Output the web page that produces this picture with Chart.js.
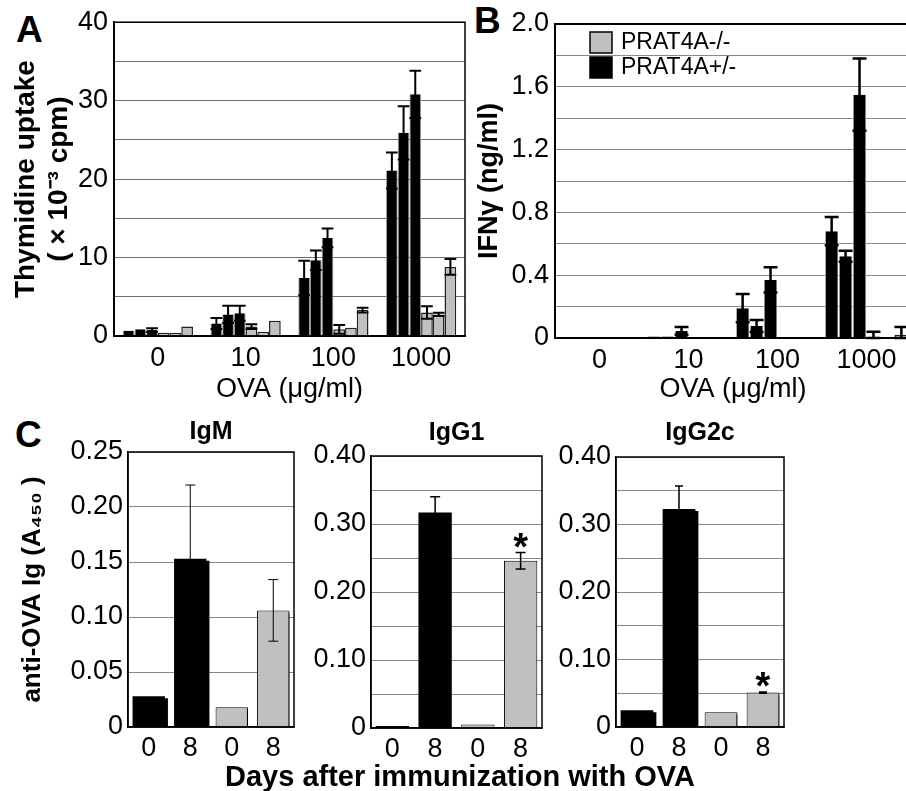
<!DOCTYPE html>
<html>
<head>
<meta charset="utf-8">
<script src="https://cdn.jsdelivr.net/npm/chart.js@4.4.1/dist/chart.umd.min.js"></script>
<style>
  html, body { margin: 0; padding: 0; background: #fff; overflow: hidden; }
  body { width: 906px; height: 791px; position: relative; font-family: 'Liberation Sans', Arial, sans-serif; color: #000; }
  .box { position: absolute; }
  .letter { position: absolute; font-weight: bold; font-size: 37px; line-height: 37px; }
  #daysTitle { position: absolute; left: 0; width: 920px; top: 761px; text-align: center; font-weight: bold; font-size: 29px; line-height: 30px; }
</style>
</head>
<body>
<div class="letter" style="left:16px; top:11px;">A</div>
<div class="letter" style="left:474px; top:2px;">B</div>
<div class="letter" style="left:15px; top:416px;">C</div>

<div class="box" style="left:0; top:0; width:470px; height:410px;"><canvas id="chartA"></canvas></div>
<div class="box" style="left:470px; top:0; width:450px; height:410px;"><canvas id="chartB"></canvas></div>
<div class="box" style="left:0; top:405px; width:300px; height:365px;"><canvas id="chartIgM"></canvas></div>
<div class="box" style="left:300px; top:405px; width:250px; height:365px;"><canvas id="chartIgG1"></canvas></div>
<div class="box" style="left:550px; top:405px; width:245px; height:365px;"><canvas id="chartIgG2c"></canvas></div>

<div id="daysTitle">Days after immunization with OVA</div>

<script>
// ---- data ----
var ovaDoses = ['0', '10', '100', '1000'];

// A: thymidine uptake (x10^-3 cpm), three mice per genotype
var thyHet = [
    [0.67, 1.6, 7.4, 21.1],
    [0.85, 2.75, 9.65, 25.9],
    [0.75, 2.9, 12.5, 30.8]
];
var thyHetErr = [
    [0, 0.7, 2.2, 2.3],
    [0, 1.1, 1.25, 3.4],
    [0.25, 0.95, 1.2, 3.0]
];
var thyKo = [
    [0.4, 1.2, 0.85, 3.0],
    [0.4, 0.55, 1.05, 2.75],
    [1.2, 1.95, 3.3, 8.8]
];
var thyKoErr = [
    [0, 0.3, 0.55, 0.8],
    [0, 0, 0, 0.2],
    [0, 0, 0.3, 1.0]
];

// B: IFN-gamma (ng/ml)
var ifnHet = [
    [0, 0.01, 0.19, 0.68],
    [0, 0.01, 0.077, 0.52],
    [0, 0.045, 0.37, 1.55]
];
var ifnHetErr = [
    [0, 0, 0.09, 0.09],
    [0, 0, 0.038, 0.035],
    [0, 0.025, 0.08, 0.23]
];
var ifnKo = [
    [0, 0, 0, 0.005],
    [0, 0, 0, 0],
    [0, 0, 0, 0.02]
];
var ifnKoErr = [
    [0, 0, 0, 0.035],
    [0, 0, 0, 0],
    [0, 0, 0, 0.05]
];

var legendLabels = ['PRAT4A-/-', 'PRAT4A+/-'];

// C: anti-OVA Ig (A450), days 0/8 for +/- then -/-
var igLabels = ['0', '8', '0', '8'];
var igmMean = [0.028, 0.153, 0.018, 0.106];
var igmErr = [0, 0.067, 0, 0.028];
var igg1Mean = [0.003, 0.317, 0.005, 0.246];
var igg1Err = [0, 0.023, 0, 0.012];
var igg2cMean = [0.025, 0.323, 0.022, 0.051];
var igg2cErr = [0, 0.034, 0, 0.001];
var igg1Star = [false, false, false, true];
var igg2cStar = [false, false, false, true];

// ---- styling ----
var BLACK = '#000000';
var GRAY = '#c0c0c0';
var FONT = "'Liberation Sans', Arial, sans-serif";
Chart.defaults.font.family = FONT;
Chart.defaults.color = '#000';

var igColors = [BLACK, BLACK, GRAY, GRAY];

// ---- plugins ----
var barShadow = {
    id: 'barShadow',
    beforeDatasetsDraw: function(chart, args, opts) {
        if (!opts.on) return;
        var ctx = chart.ctx;
        ctx.save();
        ctx.shadowColor = '#000';
        ctx.shadowOffsetX = 3;
        ctx.shadowOffsetY = 2;
        ctx.shadowBlur = 0;
    },
    afterDatasetsDraw: function(chart, args, opts) {
        if (opts.on) chart.ctx.restore();
    }
};

var errorBars = {
    id: 'errorBars',
    afterDatasetsDraw: function(chart, args, opts) {
        var ctx = chart.ctx;
        var yScale = chart.scales.y;
        chart.data.datasets.forEach(function(ds, di) {
            if (!ds.errors) return;
            var meta = chart.getDatasetMeta(di);
            meta.data.forEach(function(bar, i) {
                var v = ds.data[i];
                var err = ds.errors[i] || 0;
                var top = yScale.getPixelForValue(v + err);
                if (err > 0) {
                    var bot = yScale.getPixelForValue(Math.max(v - err, 0));
                    var half = (opts.cap || bar.width) / 2;
                    ctx.save();
                    ctx.strokeStyle = '#000';
                    ctx.lineWidth = opts.lineWidth || 1;
                    ctx.beginPath();
                    ctx.moveTo(bar.x, top);
                    ctx.lineTo(bar.x, bot);
                    ctx.moveTo(bar.x - half, top);
                    ctx.lineTo(bar.x + half, top);
                    ctx.moveTo(bar.x - half, bot);
                    ctx.lineTo(bar.x + half, bot);
                    ctx.stroke();
                    ctx.restore();
                }
                if (ds.stars && ds.stars[i]) {
                    ctx.save();
                    ctx.fillStyle = '#000';
                    ctx.font = 'bold 38px ' + FONT;
                    ctx.textAlign = 'center';
                    ctx.textBaseline = 'alphabetic';
                    ctx.fillText('*', bar.x, top + 7);
                    ctx.restore();
                }
            });
        });
    }
};

var frame = {
    id: 'frame',
    afterDraw: function(chart, args, opts) {
        var a = chart.chartArea;
        var ctx = chart.ctx;
        ctx.save();
        ctx.strokeStyle = '#000';
        ctx.lineWidth = opts.width || 1.5;
        ctx.strokeRect(a.left, a.top, a.right - a.left, a.bottom - a.top);
        ctx.restore();
    }
};

var genotypeKey = {
    id: 'genotypeKey',
    afterDraw: function(chart, args, opts) {
        if (!opts.items) return;
        var a = chart.chartArea;
        var ctx = chart.ctx;
        ctx.save();
        opts.items.forEach(function(item, i) {
            var x = a.left + 35;
            var y = a.top + 8 + i * 25;
            ctx.fillStyle = item.color;
            ctx.fillRect(x, y, 22, 21);
            ctx.strokeStyle = '#000';
            ctx.lineWidth = 1.5;
            ctx.strokeRect(x, y, 22, 21);
            ctx.fillStyle = '#000';
            ctx.font = '23px ' + FONT;
            ctx.textBaseline = 'middle';
            ctx.textAlign = 'left';
            ctx.fillText(item.text, x + 31, y + 11);
        });
        ctx.restore();
    }
};

// ---- helpers ----
function buildSets(het, hetErr, ko, koErr, gapColor) {
    var sets = [];
    het.forEach(function(vals, i) {
        sets.push({
            label: legendLabels[1],
            data: vals,
            errors: hetErr[i],
            backgroundColor: BLACK,
            borderColor: gapColor,
            borderWidth: {left: 1, right: 1, top: 0, bottom: 0}
        });
    });
    ko.forEach(function(vals, i) {
        sets.push({
            label: legendLabels[0],
            data: vals,
            errors: koErr[i],
            backgroundColor: GRAY,
            borderColor: '#222',
            borderWidth: 1.5
        });
    });
    return sets;
}

function yAxis(max, step, labelFn, width, gridColor, title) {
    var axis = {
        min: 0,
        max: max,
        ticks: {
            stepSize: step,
            autoSkip: false,
            callback: labelFn,
            font: {size: 27},
            padding: 6,
            color: '#000'
        },
        grid: {color: gridColor, lineWidth: 1, drawTicks: false},
        border: {color: '#000', width: 2},
        afterFit: function(scale) { scale.width = width; }
    };
    if (title) axis.title = title;
    return axis;
}

function xAxis(height, title) {
    var axis = {
        grid: {display: false, drawTicks: false},
        border: {color: '#000', width: 2},
        ticks: {font: {size: 27}, padding: 6, color: '#000'},
        afterFit: function(scale) { scale.height = height; }
    };
    if (title) axis.title = title;
    return axis;
}

var ovaTitle = {display: true, text: 'OVA (\u03bcg/ml)', font: {size: 27}, color: '#000', padding: {top: 0, bottom: 4}};

// ---- A ----
new Chart(document.getElementById('chartA'), {
    type: 'bar',
    data: {labels: ovaDoses, datasets: buildSets(thyHet, thyHetErr, thyKo, thyKoErr, '#9a9a9a')},
    options: {
        responsive: true,
        maintainAspectRatio: false,
        animation: false,
        layout: {padding: {top: 21, right: 5, left: 0, bottom: 0}},
        datasets: {bar: {barPercentage: 1, categoryPercentage: 0.8}},
        plugins: {
            legend: {display: false},
            tooltip: {enabled: false},
            errorBars: {lineWidth: 2},
            frame: {width: 1.5}
        },
        scales: {
            x: xAxis(74, ovaTitle),
            y: yAxis(40, 5, function(v) { return v % 10 === 0 ? v : ''; }, 114, '#707070', {
                display: true,
                text: ['Thymidine uptake', '( \u00d7 10\u207b\u00b3 cpm)'],
                font: {size: 28, weight: 'bold', lineHeight: 1.2},
                color: '#000',
                padding: {top: 9, bottom: 0}
            })
        }
    },
    plugins: [errorBars, frame]
});

// ---- B ----
new Chart(document.getElementById('chartB'), {
    type: 'bar',
    data: {labels: ovaDoses, datasets: buildSets(ifnHet, ifnHetErr, ifnKo, ifnKoErr, '#ffffff')},
    options: {
        responsive: true,
        maintainAspectRatio: false,
        animation: false,
        layout: {padding: {top: 24, right: 9, left: 0, bottom: 0}},
        datasets: {bar: {barPercentage: 1, categoryPercentage: 0.94}},
        plugins: {
            legend: {display: false},
            tooltip: {enabled: false},
            errorBars: {lineWidth: 2.5},
            frame: {width: 2},
            genotypeKey: {items: [
                {text: legendLabels[0], color: GRAY},
                {text: legendLabels[1], color: BLACK}
            ]}
        },
        scales: {
            x: xAxis(72, ovaTitle),
            y: yAxis(2, 0.2, function(v) {
                if (Math.round(v * 10) % 4 !== 0) return '';
                return v === 0 ? '0' : v.toFixed(1);
            }, 85, '#8a8a8a', {
                display: true,
                text: 'IFN\u03b3 (ng/ml)',
                font: {size: 27, weight: 'bold'},
                color: '#000',
                padding: {top: 3, bottom: 0}
            })
        }
    },
    plugins: [errorBars, frame, genotypeKey]
});

// ---- C ----
function igChart(id, title, mean, err, stars, max, labelFn, yWidth, padRight, titlePad, xHeight, shadow, errStyle, yTitle) {
    var y = yAxis(max, 0.05, labelFn, yWidth, '#8a8a8a', yTitle);
    y.border.width = 1.5;
    y.ticks.padding = 5;
    var x = xAxis(xHeight);
    x.border.width = 1.5;
    x.ticks.padding = 5;
    return new Chart(document.getElementById(id), {
        type: 'bar',
        data: {
            labels: igLabels,
            datasets: [{
                data: mean,
                errors: err,
                stars: stars,
                backgroundColor: igColors,
                borderColor: '#000',
                borderWidth: igColors.map(function(c) { return c === GRAY ? 1 : 0; })
            }]
        },
        options: {
            responsive: true,
            maintainAspectRatio: false,
            animation: false,
            layout: {padding: {top: 0, right: padRight, left: 0, bottom: 0}},
            datasets: {bar: {barPercentage: 0.78, categoryPercentage: 1}},
            plugins: {
                legend: {display: false},
                tooltip: {enabled: false},
                title: {
                    display: true,
                    text: title,
                    fullSize: false,
                    font: {size: 25, weight: 'bold'},
                    color: '#000',
                    padding: titlePad
                },
                barShadow: {on: shadow},
                errorBars: errStyle,
                frame: {width: 1.5}
            },
            scales: {x: x, y: y}
        },
        plugins: [barShadow, errorBars, frame]
    });
}

function label05(v) {
    return v === 0 ? '0' : v.toFixed(2);
}
function label10(v) {
    if (Math.round(v * 100) % 10 !== 0) return '';
    return v === 0 ? '0' : v.toFixed(2);
}

igChart('chartIgM', 'IgM', igmMean, igmErr, null, 0.25, label05, 128, 6,
    {top: 12, bottom: 5}, 43, true, {lineWidth: 1, cap: 10}, {
        display: true,
        text: 'anti-OVA Ig (A\u2084\u2085\u2080 )',
        font: {size: 26, weight: 'bold'},
        color: '#000',
        padding: {top: 17, bottom: 0}
    });
igChart('chartIgG1', 'IgG1', igg1Mean, igg1Err, igg1Star, 0.4, label10, 71, 8,
    {top: 13, bottom: 8}, 42, false, {lineWidth: 1.5, cap: 10});
igChart('chartIgG2c', 'IgG2c', igg2cMean, igg2cErr, igg2cStar, 0.4, label10, 66, 11,
    {top: 13, bottom: 9}, 43, true, {lineWidth: 1.5, cap: 8});
</script>
</body>
</html>
